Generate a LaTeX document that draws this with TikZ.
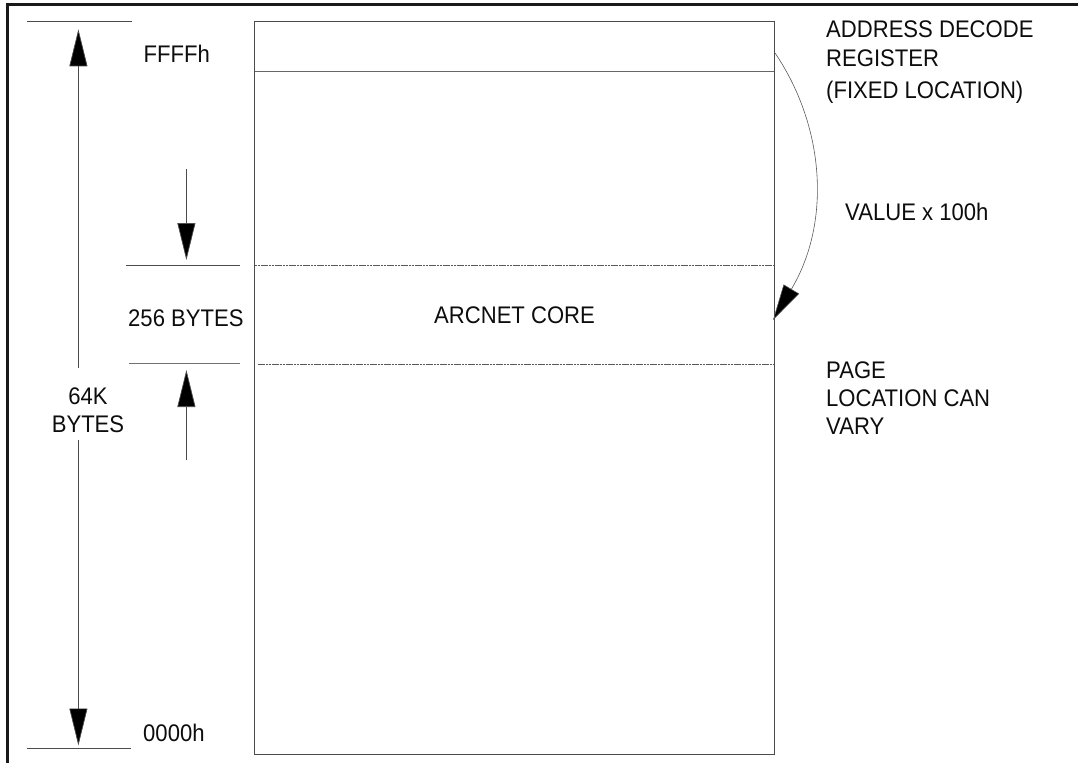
\documentclass[tikz,border=0pt]{standalone}
\usepackage{fontspec}
\setmainfont[FakeStretch=0.92]{Liberation Sans}
\usetikzlibrary{arrows.meta}
\tikzset{
  thin line/.style={draw=black!70,line width=0.7pt},
  faint line/.style={draw=black!65,line width=0.7pt,dash pattern=on 2.2pt off 0.6pt},
  solid head/.style={-{Triangle[length=37pt,width=18pt,fill=black]}},
  lbl/.style={inner sep=0pt,anchor=base west,font=\fontsize{24}{26}\selectfont,text=black!95},
}
\begin{document}
\begin{tikzpicture}[x=1pt,y=-1pt]
\useasboundingbox (0,0) rectangle (1078,763);
% frame
\coordinate (fa) at (7.3,763);
\coordinate (fb) at (7.3,4.5);
\coordinate (fc) at (1078,4.5);
\draw[line width=2.4pt,black!90] (fa) -- (fb) -- (fc);
% memory block
\coordinate (bnw) at (254.5,21.5);
\coordinate (bse) at (774,754);
\draw[thin line] (bnw) rectangle (bse);
\coordinate (rl) at (254.5,71);
\coordinate (rr) at (774,71);
\draw[thin line,draw=black!60] (rl) -- (rr);
\coordinate (p1l) at (255,265.5);
\coordinate (p1r) at (774,265.5);
\coordinate (p2l) at (257.5,364);
\coordinate (p2r) at (774,364);
\draw[faint line] (p1l) -- (p1r);
\draw[faint line] (p2l) -- (p2r);
% dimension ticks
\coordinate (t1a) at (27,21.5); \coordinate (t1b) at (132,21.5);
\coordinate (t2a) at (27,748.5); \coordinate (t2b) at (131,748.5);
\coordinate (t3a) at (126,265.5); \coordinate (t3b) at (240,265.5);
\coordinate (t4a) at (128.5,363); \coordinate (t4b) at (239.5,363);
\draw[thin line] (t1a) -- (t1b);
\draw[thin line] (t2a) -- (t2b);
\draw[thin line] (t3a) -- (t3b);
\draw[thin line,draw=black!55] (t4a) -- (t4b);
% 64K arrows
\coordinate (a1s) at (78.4,367.5); \coordinate (a1e) at (78.4,29.3);
\coordinate (a2s) at (78.4,439.5); \coordinate (a2e) at (78.4,745.5);
\draw[thin line,solid head] (a1s) -- (a1e);
\draw[thin line,solid head] (a2s) -- (a2e);
% 256 arrows
\coordinate (b1s) at (186.4,169); \coordinate (b1e) at (186.4,260);
\coordinate (b2s) at (186.4,460); \coordinate (b2e) at (186.4,370);
\draw[thin line,solid head] (b1s) -- (b1e);
\draw[thin line,solid head] (b2s) -- (b2e);
% curved arrow
\coordinate (cs) at (775,53);
\coordinate (ce) at (773,320);
\draw[draw=black!65,line width=0.6pt,-{Triangle[length=36pt,width=18pt,fill=black]}]
  (cs) .. controls (824,125) and (832,221) .. (ce);
% texts
\node[lbl] (ffff) at (143.5,62) {FFFFh};
\node[lbl] (zero) at (143,741.5) {0000h};
\node[lbl] (b256) at (128,326) {256 BYTES};
\node[lbl,anchor=base] (k64) at (88,404) {64K};
\node[lbl,anchor=base] (kby) at (88,432) {BYTES};
\node[lbl] (core) at (434,323) {ARCNET CORE};
\node[lbl] (ad1) at (826,37.5) {ADDRESS DECODE};
\node[lbl] (ad2) at (826,66.5) {REGISTER};
\node[lbl] (ad3) at (826,98) {(FIXED LOCATION)};
\node[lbl] (val) at (845,220) {VALUE x 100h};
\node[lbl] (pg1) at (826,378) {PAGE};
\node[lbl] (pg2) at (826,406.5) {LOCATION CAN};
\node[lbl] (pg3) at (826,434) {VARY};
\end{tikzpicture}
\end{document}
